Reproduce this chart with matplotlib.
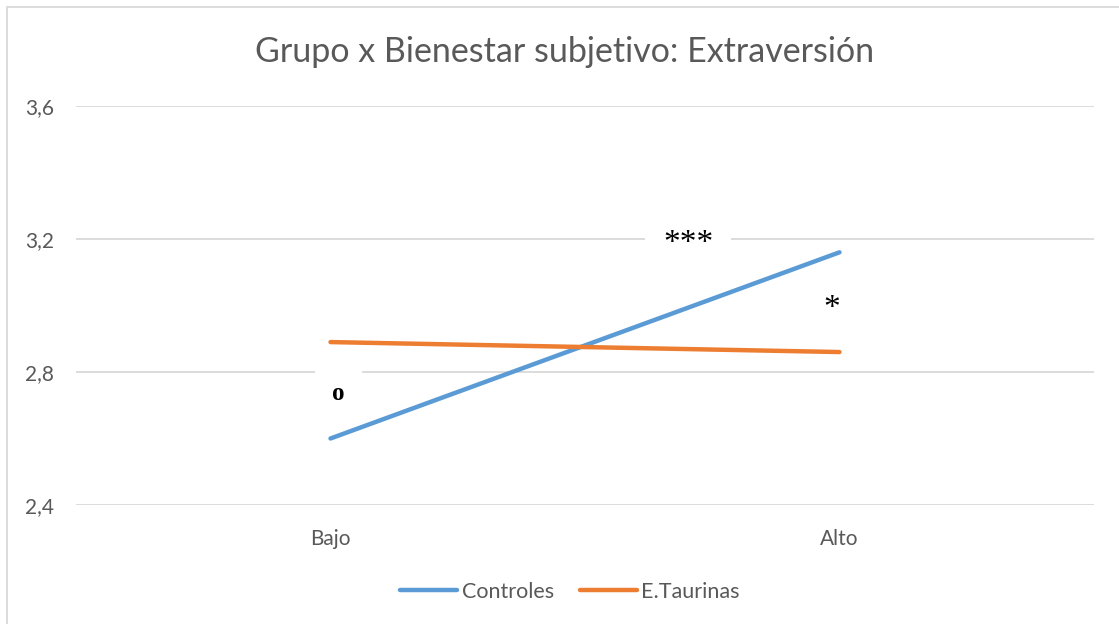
import matplotlib.pyplot as plt
from matplotlib.patches import Rectangle

categories = ["Bajo", "Alto"]
controles = [2.60, 3.16]
taurinas = [2.89, 2.86]
y_ticks = [2.4, 2.8, 3.2, 3.6]
y_labels = ["2,4", "2,8", "3,2", "3,6"]

plt.rcParams['font.family'] = ['Lato', 'DejaVu Sans']
gray = '#595959'

fig = plt.figure(figsize=(11.19, 6.24), dpi=100)
ax = fig.add_axes([76 / 1119, 1 - 505 / 624, 1018 / 1119, 399 / 624])
ax.set_axisbelow(True)

x = list(range(len(categories)))
ax.plot(x, controles, color='#5B9BD5', linewidth=3.2, solid_capstyle='round', label='Controles', zorder=3)
ax.plot(x, taurinas, color='#ED7D31', linewidth=3.2, solid_capstyle='round', label='E.Taurinas', zorder=3)

ax.set_xlim(-0.5, 1.5)
ax.set_ylim(2.4, 3.6)
ax.set_xticks(x)
ax.set_xticklabels(categories)
ax.set_yticks(y_ticks)
ax.set_yticklabels(y_labels)
ax.tick_params(length=0, labelsize=15, labelcolor=gray)
ax.tick_params(axis='x', pad=17)
ax.tick_params(axis='y', pad=16)
ax.grid(axis='y', color='#D9D9D9', linewidth=1.3)
for s in ax.spines.values():
    s.set_visible(False)

# significance marks (white text boxes hide the gridline behind them, as in the original)
ax.add_patch(Rectangle((-0.03, 2.77), 0.092, 0.06, facecolor='white', edgecolor='none', zorder=2))
ax.text(0.016, 2.735, "o", family='Liberation Serif', fontweight='bold', fontsize=18,
        ha='center', va='center', zorder=2)
ax.text(0.703, 3.185, "***", family='Liberation Serif', fontsize=24,
        ha='center', va='center', bbox=dict(facecolor='white', edgecolor='none', pad=13), zorder=2)
ax.text(0.985, 2.99, "*", family='Liberation Serif', fontsize=24,
        ha='center', va='center', zorder=2)

fig.suptitle("Grupo x Bienestar subjetivo: Extraversión", x=565 / 1119, y=1 - 52 / 624,
             va='center', fontsize=24.5, color=gray)

leg = fig.legend(loc='center', bbox_to_anchor=(570 / 1119, 1 - 592 / 624), ncol=2, frameon=False,
                 fontsize=15.5, handlelength=2.65, columnspacing=1.2, handletextpad=0.2)
for t in leg.get_texts():
    t.set_color(gray)

fig.patches.append(Rectangle((7 / 1119, -0.1), 1.2, 1 - 7 / 624 + 0.1, transform=fig.transFigure,
                             fill=False, edgecolor='#D9D9D9', linewidth=1.3))

fig.savefig("out.png", dpi=100)
